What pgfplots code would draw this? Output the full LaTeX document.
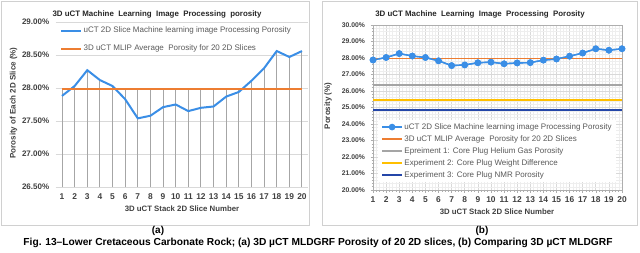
\documentclass[border=0pt]{standalone}
\usepackage{pgfplots}
\pgfplotsset{compat=1.18}
\usepackage{fontspec}
\setmainfont{Liberation Sans}
\definecolor{cblue}{HTML}{3A8EE6}
\definecolor{corange}{HTML}{ED7D31}
\definecolor{cgrey}{HTML}{A5A5A5}
\definecolor{cyellow}{HTML}{FFBF00}
\definecolor{cdblue}{HTML}{2446A8}
\definecolor{dropc}{HTML}{A6A6A6}
\definecolor{gridc}{HTML}{D9D9D9}
\definecolor{gridmin}{HTML}{EEEEEE}
\definecolor{borderc}{HTML}{D0D0D0}
\definecolor{tickc}{HTML}{404040}
\definecolor{legc}{HTML}{595959}
\pgfplotsset{
  every axis/.append style={
    /pgf/number format/assume math mode=true,
    tick label style={font=\bfseries\fontsize{8.4}{9}\selectfont, text=tickc},
    legend cell align=left,
  },
}
\begin{document}
\begin{tikzpicture}[x=1pt,y=1pt]
\path[use as bounding box] (0,0) rectangle (640,252);
\draw[borderc, line width=0.6pt] (1,27) rectangle (309,251);
\draw[borderc, line width=0.6pt] (322,27) rectangle (637,251);
% titles
\node[font=\bfseries\fontsize{7.9}{9}\selectfont, text=black!85] at (157,238) {3D uCT Machine\ \ Learning\ \ Image\ \ Processing\ \ porosity};
\node[font=\bfseries\fontsize{7.9}{9}\selectfont, text=black!85] at (480,238) {3D uCT Machine\ \ Learning\ \ Image\ \ Processing\ \ Porosity};
% y labels
\node[rotate=90, font=\bfseries\fontsize{8}{9}\selectfont, text=tickc] at (13.5,149) {Porosity of Each 2D Slice (\%)};
\node[rotate=90, font=\bfseries\fontsize{8}{9}\selectfont, text=tickc] at (328,146) {Porosity (\%)};
% x labels
\node[font=\bfseries\fontsize{7.8}{9}\selectfont, text=tickc] at (182,43) {3D uCT Stack 2D Slice Number};
\node[font=\bfseries\fontsize{7.8}{9}\selectfont, text=tickc] at (497,40) {3D uCT Stack 2D Slice Number};
% captions
\node[font=\bfseries\fontsize{10}{11}\selectfont] at (158,21) {(a)};
\node[font=\bfseries\fontsize{10}{11}\selectfont] at (482,21) {(b)};
\node[font=\bfseries\fontsize{10.2}{11}\selectfont] at (318,9) {Fig. 13–Lower Cretaceous Carbonate Rock; (a) 3D µCT MLDGRF Porosity of 20 2D slices, (b) Comparing 3D µCT MLDGRF};

\begin{axis}[
  at={(55.7pt,65pt)}, anchor=south west, scale only axis,
  width=252.6pt, height=165pt,
  xmin=0.5, xmax=20.5, ymin=26.5, ymax=29,
  xtick={1,...,20},
  ytick={26.5,27,27.5,28,28.5,29},
  yticklabels={26.50\%,27.00\%,27.50\%,28.00\%,28.50\%,29.00\%},
  yticklabel style={font=\bfseries\fontsize{8}{9}\selectfont, xshift=-3pt},
  ymajorgrids, major grid style={gridc, line width=0.7pt},
  axis line style={draw=none},
  major tick length=0pt,
  xticklabel style={yshift=-3pt},
  legend style={at={(0.004,0.99)}, anchor=north west, draw=none, fill=none,
    font=\fontsize{8}{9}\selectfont, text=legc, row sep=7.8pt,
    nodes={text height=5.5pt, text depth=1.5pt, inner sep=1.5pt}},
  legend image code/.code={\draw[#1] (0pt,0pt) -- (20pt,0pt);},
]
\addplot[ycomb, draw=dropc, line width=1pt, forget plot] coordinates {
(1,27.88) (2,28.03) (3,28.27) (4,28.12) (5,28.03) (6,27.83) (7,27.54) (8,27.58) (9,27.71) (10,27.75)
(11,27.65) (12,27.70) (13,27.72) (14,27.87) (15,27.94) (16,28.11) (17,28.30) (18,28.56) (19,28.47) (20,28.56)};
\addplot[ycomb, draw=dropc, line width=1pt, forget plot] coordinates {
(1,27.98) (2,27.98) (3,27.98) (4,27.98) (5,27.98) (6,27.98) (7,27.98) (8,27.98) (9,27.98) (10,27.98)
(11,27.98) (12,27.98) (13,27.98) (14,27.98) (15,27.98) (16,27.98) (17,27.98) (18,27.98) (19,27.98) (20,27.98)};
\addplot[draw=cblue, line width=2pt, no markers] coordinates {
(1,27.88) (2,28.03) (3,28.27) (4,28.12) (5,28.03) (6,27.83) (7,27.54) (8,27.58) (9,27.71) (10,27.75)
(11,27.65) (12,27.70) (13,27.72) (14,27.87) (15,27.94) (16,28.11) (17,28.30) (18,28.56) (19,28.47) (20,28.56)};
\addlegendentry{uCT 2D Slice Machine learning image Processing Porosity}
\addplot[draw=corange, line width=2.2pt, no markers] coordinates {(1,27.98) (20,27.98)};
\addlegendentry{3D uCT MLIP Average\ \ Porosity for 20 2D Slices}
\end{axis}

\begin{axis}[
  at={(373pt,62pt)}, anchor=south west, scale only axis,
  width=249pt, height=165pt,
  xmin=1, xmax=20, ymin=20, ymax=30,
  xtick={1,...,20},
  ytick={20,21,...,30},
  yticklabels={20.00\%,21.00\%,22.00\%,23.00\%,24.00\%,25.00\%,26.00\%,27.00\%,28.00\%,29.00\%,30.00\%},
  yticklabel style={font=\bfseries\fontsize{6.8}{9}\selectfont, xshift=-2pt},
  xticklabel style={yshift=-1pt},
  minor x tick num=3, minor y tick num=4,
  grid=both,
  major grid style={gridc, line width=0.6pt},
  minor grid style={gridmin, line width=0.4pt},
  axis line style={gridc!80!black, line width=0.6pt},
  tick style={gridc!80!black, line width=0.5pt},
  tick align=outside, major tick length=2.5pt, minor tick length=1.5pt,
  xtick pos=bottom, ytick pos=left,
  clip mode=individual,
  legend style={at={(0.02,0.425)}, anchor=north west, draw=none, fill=white,
    font=\fontsize{8}{9}\selectfont, text=legc, row sep=2pt,
    nodes={text height=5.5pt, text depth=1.5pt, inner sep=1.5pt}},
  legend image code/.code={\draw[#1, mark repeat=2, mark phase=2] plot coordinates {(0pt,0pt) (10pt,0pt) (20pt,0pt)};},
]
\addplot[draw=cblue, line width=1.4pt, mark=*, mark size=2.6pt, mark options={fill=cblue, draw=cblue}] coordinates {
(1,27.88) (2,28.03) (3,28.27) (4,28.12) (5,28.03) (6,27.83) (7,27.54) (8,27.58) (9,27.71) (10,27.75)
(11,27.65) (12,27.70) (13,27.72) (14,27.87) (15,27.94) (16,28.11) (17,28.30) (18,28.56) (19,28.47) (20,28.56)};
\addlegendentry{uCT 2D Slice Machine learning image Processing Porosity}
\addplot[draw=corange, line width=1.6pt, no markers] coordinates {(1,27.98) (20,27.98)};
\addlegendentry{3D uCT MLIP Average\ \ Porosity for 20 2D Slices}
\addplot[draw=cgrey, line width=1.6pt, no markers] coordinates {(1,26.35) (20,26.35)};
\addlegendentry{Epreiment 1: Core Plug Helium Gas Porosity}
\addplot[draw=cyellow, line width=1.8pt, no markers] coordinates {(1,25.45) (20,25.45)};
\addlegendentry{Experiment 2: Core Plug Weight Difference}
\addplot[draw=cdblue, line width=1.6pt, no markers] coordinates {(1,24.85) (20,24.85)};
\addlegendentry{Experiment 3: Core Plug NMR Porosity}
\addplot[draw=cblue, line width=1.4pt, mark=*, mark size=2.6pt, mark options={fill=cblue, draw=cblue}, forget plot] coordinates {
(1,27.88) (2,28.03) (3,28.27) (4,28.12) (5,28.03) (6,27.83) (7,27.54) (8,27.58) (9,27.71) (10,27.75)
(11,27.65) (12,27.70) (13,27.72) (14,27.87) (15,27.94) (16,28.11) (17,28.30) (18,28.56) (19,28.47) (20,28.56)};
\end{axis}
\end{tikzpicture}
\end{document}
